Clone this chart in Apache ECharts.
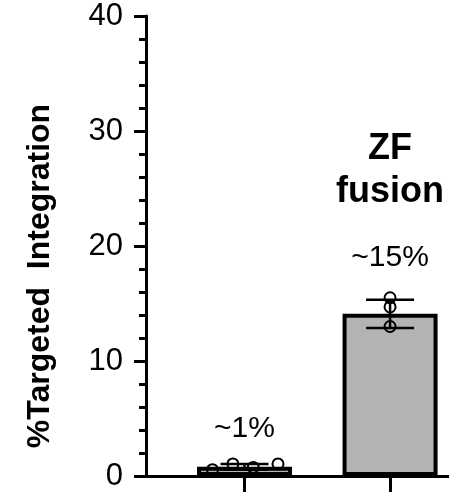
<!DOCTYPE html>
<html><head><meta charset="utf-8">
<script src="https://cdn.jsdelivr.net/npm/echarts@6/dist/echarts.min.js"></script>
<style>html,body{margin:0;padding:0;background:#fff}#c{width:449px;height:492px}</style>
</head><body><div id="c"></div>
<script>
// ---- data ----
const categories = ['Control', 'ZF fusion'];
const categoryPos = [1, 2];
const means = [0.8, 14.1];
const sds = [0.25, 1.22];
const points1 = [0.55, 1.05, 0.75, 1.05];
const points1Jitter = [-0.22, -0.08, 0.06, 0.23];
const points2 = [15.5, 14.7, 13.0];
const points2Jitter = [0, 0, 0];
const yTicks = [0, 10, 20, 30, 40];
const annotations = ['~1%', '~15%'];
const annotationY = [4.1, 19.0];
const groupLabel = 'ZF\nfusion';
const groupLabelY = 26.6;
const yTitle = '%Targeted  Integration';

// ---- chart ----
const FONT = '"Liberation Sans", Arial, Helvetica, sans-serif';
const chart = echarts.init(document.getElementById('c'), null, {renderer: 'canvas'});

const barData = categoryPos.map((x, i) => [x, means[i]]);
const errData = categoryPos.map((x, i) => [x, means[i], sds[i]]);
const ptData = points1.map((v, i) => [categoryPos[0] + points1Jitter[i], v])
  .concat(points2.map((v, i) => [categoryPos[1] + points2Jitter[i], v]));
const lbl = {show: true, position: 'inside', color: '#000', textBorderWidth: 0, fontSize: 30, fontFamily: FONT};
const annData = annotations.map((t, i) => ({value: [categoryPos[i], annotationY[i]], label: Object.assign({}, lbl, {formatter: t})}));
annData.push({value: [categoryPos[1], groupLabelY], label: Object.assign({}, lbl, {formatter: groupLabel, fontSize: 36, fontWeight: 'bold', lineHeight: 43})});

chart.setOption({
  animation: false,
  backgroundColor: '#fff',
  grid: {left: 146, right: 0, top: 16, bottom: 16, containLabel: false},
  xAxis: {
    type: 'value', min: 0.323, max: 2.405,
    axisLine: {show: true, onZero: false, lineStyle: {color: '#000', width: 3}},
    axisTick: {show: true, customValues: categoryPos, length: 16, lineStyle: {color: '#000', width: 3}},
    axisLabel: {show: false},
    splitLine: {show: false}
  },
  yAxis: {
    type: 'value', min: yTicks[0], max: yTicks[yTicks.length - 1], interval: 10,
    axisLine: {show: true, lineStyle: {color: '#000', width: 3}},
    axisTick: {show: true, length: 12, lineStyle: {color: '#000', width: 3}},
    minorTick: {show: true, splitNumber: 5, length: 7, lineStyle: {color: '#000', width: 3}},
    axisLabel: {color: '#000', fontSize: 31, fontFamily: FONT, margin: 23},
    splitLine: {show: false}
  },
  graphic: [{
    type: 'text', x: 40, y: 276, rotation: Math.PI / 2,
    style: {text: yTitle, font: 'bold 32px ' + FONT, fill: '#000', align: 'center', verticalAlign: 'middle'}
  }],
  series: [
    {
      type: 'bar', data: barData, barWidth: 95, z: 2,
      itemStyle: {color: '#b3b3b3', borderColor: '#000', borderWidth: 4}
    },
    {
      type: 'custom', data: errData, z: 3,
      renderItem: function (params, api) {
        const x = api.value(0), m = api.value(1), s = api.value(2);
        const hi = api.coord([x, m + s]), lo = api.coord([x, m - s]);
        const w = 24;
        const st = {stroke: '#000', lineWidth: 2.5};
        return {type: 'group', children: [
          {type: 'line', shape: {x1: hi[0], y1: hi[1], x2: lo[0], y2: lo[1]}, style: st},
          {type: 'line', shape: {x1: hi[0] - w, y1: hi[1], x2: hi[0] + w, y2: hi[1]}, style: st},
          {type: 'line', shape: {x1: lo[0] - w, y1: lo[1], x2: lo[0] + w, y2: lo[1]}, style: st}
        ]};
      }
    },
    {
      type: 'scatter', data: ptData, z: 4, symbol: 'circle', symbolSize: 11,
      itemStyle: {color: 'rgba(0,0,0,0)', borderColor: '#000', borderWidth: 2, opacity: 1}
    },
    {
      type: 'scatter', data: annData, z: 5, symbolSize: 0, silent: true,
      itemStyle: {color: '#000', opacity: 1},
      label: lbl
    }
  ]
});
</script>
</body></html>
